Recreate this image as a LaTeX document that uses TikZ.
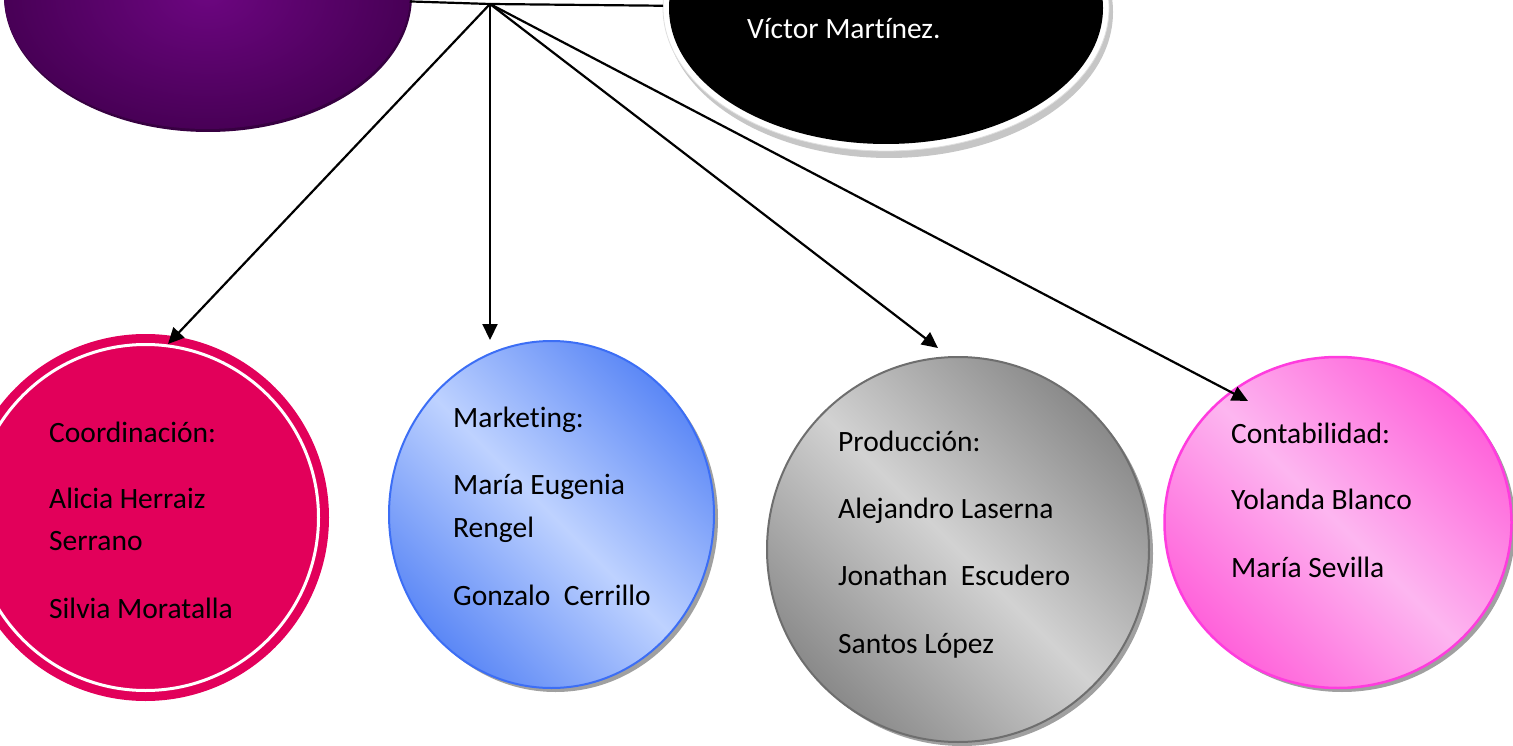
\documentclass[tikz,border=0pt]{standalone}
\usepackage{fontspec}
\setmainfont{Carlito}[Ligatures=NoCommon]
\usetikzlibrary{shapes.geometric,arrows.meta,shadows}
\definecolor{puin}{RGB}{108,6,128}
\definecolor{puout}{RGB}{72,0,86}
\definecolor{pushadow}{RGB}{55,0,65}
\definecolor{copink}{RGB}{226,0,90}
\definecolor{mkdark}{RGB}{92,136,246}
\definecolor{mklight}{RGB}{190,210,255}
\definecolor{mkborder}{RGB}{60,110,245}
\definecolor{prdark}{RGB}{138,138,138}
\definecolor{prlight}{RGB}{210,210,210}
\definecolor{prborder}{RGB}{110,110,110}
\definecolor{ctdark}{RGB}{255,98,218}
\definecolor{ctlight}{RGB}{253,182,240}
\definecolor{ctborder}{RGB}{255,60,222}
\begin{document}
\begin{tikzpicture}[x=1pt,y=-1pt,
  bubble/.style={ellipse, inner sep=0pt, outer sep=0pt},
  txt/.style={anchor=base west, inner sep=0pt, font=\fontsize{29.5}{35}\selectfont, text=black},
  conn/.style={line width=2.2pt, draw=black},
  arr/.style={conn, -{Triangle[length=16pt,width=15pt]}},
  shd/.style={drop shadow={shadow xshift=4pt, shadow yshift=-4pt, fill=gray, opacity=0.75}},
  diag/.style={shading=axis, top color=#1dark, bottom color=#1dark, middle color=#1light, shading angle=-45}
]
\useasboundingbox (0,0) rectangle (1513,746);
\clip (0,0) rectangle (1513,746);
% top bubbles
\node[bubble, fill=pushadow, minimum width=408pt, minimum height=272pt] (pus) at (208,-4) {};
\node[bubble, shading=radial, inner color=puin, outer color=puout, minimum width=406pt, minimum height=268pt] (pu) at (207,-5) {};
\node[bubble, fill=gray!45, minimum width=448pt, minimum height=292pt] (bks) at (889,12) {};
\node[bubble, fill=white, draw=gray!25, line width=0.8pt, minimum width=446pt, minimum height=286pt] (bkr) at (886,8) {};
\node[bubble, fill=black, minimum width=434pt, minimum height=272pt] (bk) at (886,8) {};
\node[txt, text=white] (vm) at (747,39) {Víctor Martínez.};
% bottom bubbles
\node[bubble, fill=copink, minimum width=367pt, minimum height=367pt] (co) at (145.5,517.5) {};
\node[bubble, draw=white, line width=3pt, minimum width=346pt, minimum height=346pt] (coring) at (145.5,517.5) {};
\node[bubble, shd, diag=mk, draw=mkborder, line width=2pt, minimum width=325pt, minimum height=347pt] (mk) at (551.5,514.5) {};
\node[bubble, shd, diag=pr, draw=prborder, line width=2pt, minimum width=382pt, minimum height=385pt] (pr) at (958,549.5) {};
\node[bubble, shd, diag=ct, draw=ctborder, line width=2.5pt, minimum width=347pt, minimum height=331pt] (ct) at (1338,522.5) {};
% texts
\node[txt] (co1) at (49,442) {Coordinación:};
\node[txt] (co2) at (49,508) {Alicia Herraiz};
\node[txt] (co3) at (49,550) {Serrano};
\node[txt] (co4) at (49,618) {Silvia Moratalla};
\node[txt] (mk1) at (453,427) {Marketing:};
\node[txt] (mk2) at (453,494) {María Eugenia};
\node[txt] (mk3) at (453,537) {Rengel};
\node[txt] (mk4) at (453,605) {Gonzalo\ \ Cerrillo};
\node[txt] (pr1) at (838,451) {Producción:};
\node[txt] (pr2) at (838,518) {Alejandro Laserna};
\node[txt] (pr3) at (838,585) {Jonathan\ \ Escudero};
\node[txt] (pr4) at (838,653) {Santos López};
\node[txt] (ct1) at (1231,443) {Contabilidad:};
\node[txt] (ct2) at (1231,509) {Yolanda Blanco};
\node[txt] (ct3) at (1231,577) {María Sevilla};
% connectors
\coordinate (J) at (490,4);
\coordinate (coT) at (168,344);
\coordinate (mkT) at (490,340);
\coordinate (prT) at (938,348);
\coordinate (ctT) at (1248,401);
\draw[conn] (J) -- (pu);
\draw[conn] (J) -- (bkr);
\draw[arr] (J) -- (coT);
\draw[arr] (J) -- (mkT);
\draw[arr] (J) -- (prT);
\draw[arr] (J) -- (ctT);
\end{tikzpicture}
\end{document}
